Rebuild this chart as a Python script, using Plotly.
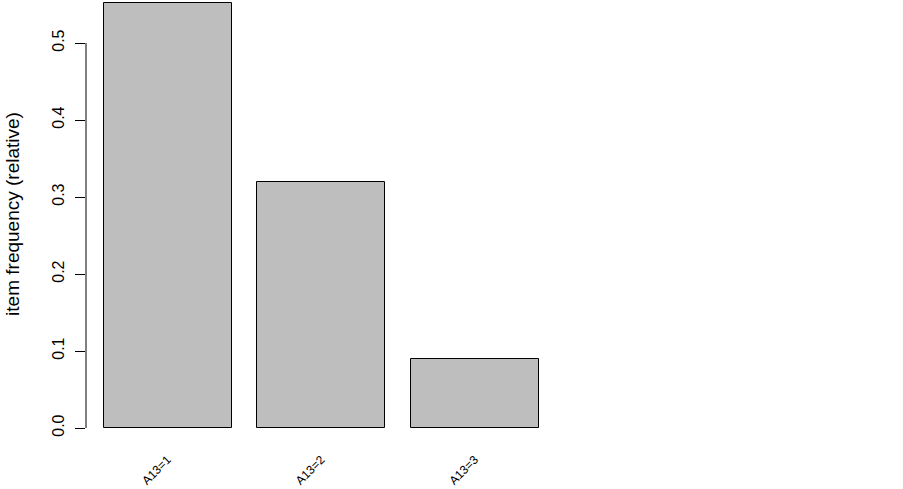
import plotly.graph_objects as go

# item frequency plot (relative), arules style
items = ["A13=1", "A13=2", "A13=3"]
freq = [0.552, 0.320, 0.090]
bar_pos = [0.7, 1.9, 3.1]   # barplot midpoints, width 1, space 0.2
y_ticks = [0.0, 0.1, 0.2, 0.3, 0.4, 0.5]
y_ticktext = ["0.0", "0.1", "0.2", "0.3", "0.4", "0.5"]

font = "Liberation Sans, Arial, sans-serif"

fig = go.Figure(go.Bar(
    x=bar_pos, y=freq, width=1,
    marker=dict(color="#bebebe", line=dict(color="black", width=1)),
    hovertext=items, hovertemplate="%{hovertext}: %{y}<extra></extra>",
))

# R draws the y axis line only over the tick span
fig.add_shape(type="line", xref="paper", yref="y", x0=0, x1=0, y0=0, y1=0.5,
              line=dict(color="black", width=1))

fig.update_layout(
    width=903, height=489,
    margin=dict(l=86, r=60, t=0, b=61),
    plot_bgcolor="white", paper_bgcolor="white",
    font=dict(family=font, color="black", size=16),
    showlegend=False,
    bargap=0,
    xaxis=dict(
        range=[0.063, 0.063 + 757 / 128],
        tickmode="array", tickvals=bar_pos, ticktext=items,
        tickangle=-45, tickfont=dict(size=12),
        ticks="outside", ticklen=19, tickcolor="rgba(0,0,0,0)",
        showgrid=False, zeroline=False, showline=False, automargin=False,
    ),
    yaxis=dict(
        range=[0, 428 / 770],
        tickmode="array", tickvals=y_ticks, ticktext=y_ticktext,
        tickangle=-90, ticks="outside", ticklen=10, tickcolor="black",
        ticklabelstandoff=5,
        showgrid=False, zeroline=False, showline=False, automargin=False,
        title=dict(text="item frequency (relative)", standoff=24),
    ),
)

# no page margin so the figure sits at the window's corner
fig.write_html("out.html", config={"displayModeBar": False},
               post_script="document.body.style.margin='0';")
